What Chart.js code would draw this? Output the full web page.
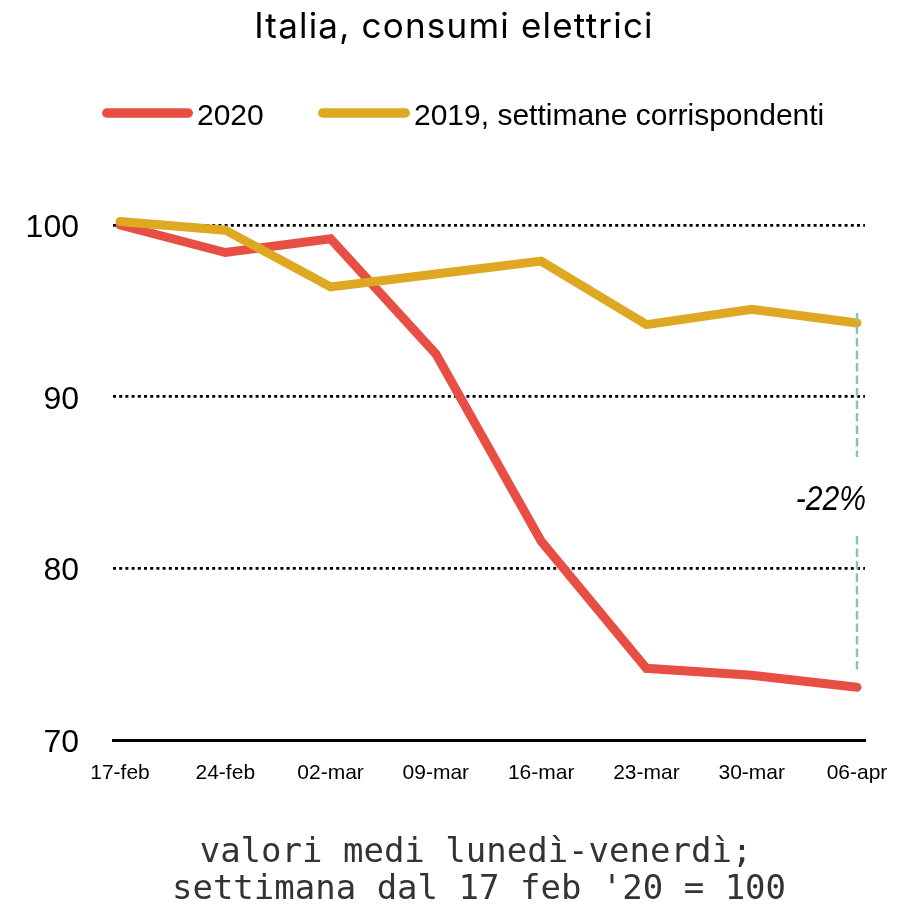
<!DOCTYPE html>
<html>
<head>
<meta charset="utf-8">
<script src="https://cdn.jsdelivr.net/npm/chart.js@4.4.1/dist/chart.umd.min.js"></script>
<style>
  html, body { margin: 0; padding: 0; background: #fff; }
  #wrap { width: 902px; height: 906px; position: relative; }
</style>
</head>
<body>
<div id="wrap"><canvas id="c" width="902" height="906"></canvas></div>
<script>
// ---- data ----
const weeks = ["17-feb", "24-feb", "02-mar", "09-mar", "16-mar", "23-mar", "30-mar", "06-apr"];
const values2020 = [100.0, 98.4, 99.2, 92.5, 81.6, 74.2, 73.8, 73.1];
const values2019 = [100.2, 99.7, 96.4, 97.15, 97.9, 94.2, 95.1, 94.3];
const seriesNames = ["2020", "2019, settimane corrispondenti"];
const seriesColors = ["#e84f44", "#dea823"];
const yTicks = [70, 80, 90, 100];
const titleText = "Italia, consumi elettrici";
const changeLabel = "-22%";
const noteLines = ["valori medi lunedì-venerdì;", "settimana dal 17 feb '20 = 100"];

const SANS = '"Liberation Sans", Arial, sans-serif';

const extras = {
  id: 'extras',
  afterDraw(chart) {
    const ctx = chart.ctx;
    const xs = chart.scales.x, ys = chart.scales.y;
    ctx.save();
    // title
    ctx.fillStyle = '#000';
    ctx.textAlign = 'center';
    ctx.textBaseline = 'alphabetic';
    ctx.font = '35px Inter, ' + SANS;
    ctx.letterSpacing = '1.2px';
    ctx.fillText(titleText, 454, 38);
    ctx.letterSpacing = '0px';

    // legend
    const legendPos = [{x0: 102, x1: 193}, {x0: 318, x1: 410}];
    ctx.font = '30px ' + SANS;
    ctx.textAlign = 'left';
    seriesNames.forEach((name, i) => {
      const p = legendPos[i];
      ctx.strokeStyle = seriesColors[i];
      ctx.lineWidth = 9.5;
      ctx.lineCap = 'round';
      ctx.beginPath();
      ctx.moveTo(p.x0 + 4.75, 113);
      ctx.lineTo(p.x1 - 4.75, 113);
      ctx.stroke();
      ctx.fillStyle = '#000';
      ctx.fillText(name, p.x1 + 4, 125);
    });

    // annotation: dashed teal line at last week
    const last = weeks.length - 1;
    const ax = xs.getPixelForValue(last);
    const yTop = ys.getPixelForValue(values2019[last]) - 10;
    const yBot = ys.getPixelForValue(values2020[last]) - 16;
    const textBase = 509.5;
    const mid = textBase - 12.5;
    ctx.strokeStyle = '#8fc1b3';
    ctx.lineWidth = 2.5;
    ctx.lineCap = 'butt';
    ctx.setLineDash([8.5, 4]);
    ctx.beginPath();
    ctx.moveTo(ax, yTop); ctx.lineTo(ax, mid - 40);
    ctx.moveTo(ax, mid + 39); ctx.lineTo(ax, yBot);
    ctx.stroke();
    ctx.setLineDash([]);

    // -22% label (narrow italic)
    ctx.save();
    ctx.translate(866, textBase);
    ctx.scale(0.86, 1);
    ctx.font = 'italic 35px ' + SANS;
    ctx.textAlign = 'right';
    ctx.fillStyle = '#000';
    ctx.fillText(changeLabel, 0, 0);
    ctx.restore();

    // footnote
    ctx.font = '34px "DejaVu Sans Mono", monospace';
    ctx.fillStyle = '#333';
    ctx.textAlign = 'center';
    ctx.fillText(noteLines[0], 476, 862);
    ctx.fillText(noteLines[1], 479, 899);
    ctx.restore();
  }
};

new Chart(document.getElementById('c'), {
  type: 'line',
  data: {
    labels: weeks,
    datasets: [
      {
        label: seriesNames[0],
        data: values2020.map((v, i) => ({x: i, y: v})),
        borderColor: seriesColors[0],
        backgroundColor: seriesColors[0],
        borderWidth: 9,
        borderCapStyle: 'round',
        borderJoinStyle: 'miter',
        pointRadius: 0,
        tension: 0,
        clip: false,
        order: 1
      },
      {
        label: seriesNames[1],
        data: values2019.map((v, i) => ({x: i, y: v})),
        borderColor: seriesColors[1],
        backgroundColor: seriesColors[1],
        borderWidth: 9,
        borderCapStyle: 'round',
        borderJoinStyle: 'miter',
        pointRadius: 0,
        tension: 0,
        clip: false,
        order: 0
      }
    ]
  },
  options: {
    responsive: false,
    animation: false,
    devicePixelRatio: 1,
    layout: { padding: { top: 225, right: 37, bottom: 105.5, left: 0 } },
    plugins: { legend: { display: false }, title: { display: false }, tooltip: { enabled: false } },
    scales: {
      x: {
        type: 'linear',
        min: -0.0665,
        max: weeks.length - 1 + 0.076,
        afterBuildTicks(scale) { scale.ticks = weeks.map((_, i) => ({value: i})); },
        afterFit(scale) { scale.height = 60; scale.paddingLeft = 0; scale.paddingRight = 0; },
        grid: { display: false, drawTicks: false },
        border: { display: true, color: '#000', width: 3 },
        ticks: {
          autoSkip: false, maxRotation: 0, padding: 20,
          color: '#000',
          font: { family: SANS, size: 21 },
          callback: (v) => weeks[v]
        }
      },
      y: {
        type: 'linear',
        min: 70, max: 100,
        afterBuildTicks(scale) { scale.ticks = yTicks.map(v => ({value: v})); },
        afterFit(scale) { scale.width = 113; scale.paddingTop = 0; scale.paddingBottom = 0; },
        grid: {
          drawTicks: false,
          color: (c) => c.tick && c.tick.value === 70 ? 'rgba(0,0,0,0)' : '#000',
          lineWidth: 2.8
        },
        border: { display: false, dash: [3, 3.2] },
        ticks: {
          padding: 34,
          labelOffset: 3,
          color: '#000',
          font: { family: SANS, size: 32 },
          callback: (v) => String(v)
        }
      }
    }
  },
  plugins: [extras]
});
</script>
</body>
</html>
